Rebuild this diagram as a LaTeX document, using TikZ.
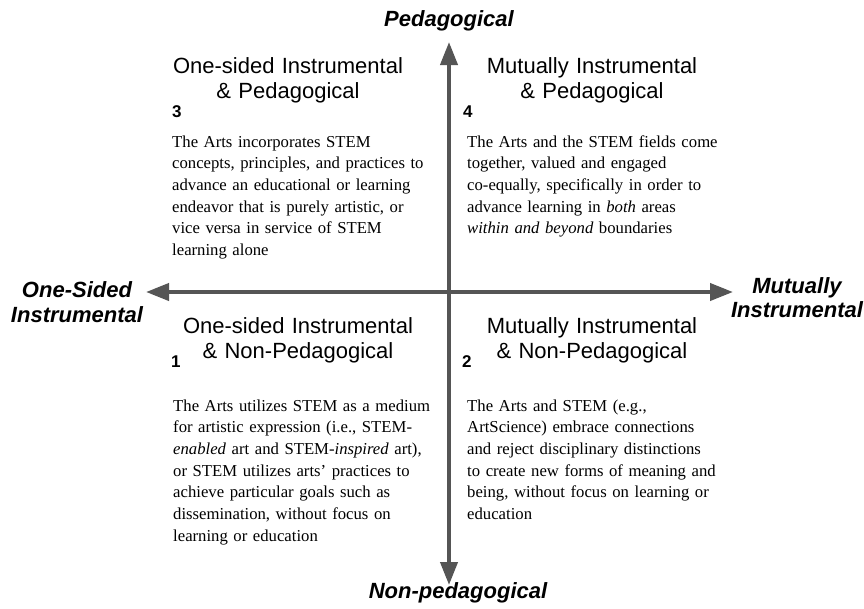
\documentclass[tikz,border=0pt]{standalone}
\usepackage{fontspec}
\setmainfont{Liberation Serif}
\newfontfamily\hfont{Liberation Sans}
\usetikzlibrary{arrows.meta}
\definecolor{axisgray}{HTML}{555555}
\begin{document}
\begin{tikzpicture}[x=1pt,y=-1pt,
  axisline/.style={draw=axisgray,line width=4pt,
    {Triangle[length=23pt,width=17pt]}-{Triangle[length=23pt,width=17pt]}},
  axislabel/.style={inner sep=0pt,align=center,font=\hfont\bfseries\itshape\fontsize{22}{25}\selectfont},
  quadhead/.style={inner sep=0pt,anchor=base,text width=260pt,align=center,font=\hfont\fontsize{22}{25}\selectfont},
  quadnum/.style={inner sep=0pt,anchor=base west,font=\hfont\bfseries\fontsize{17}{20}\selectfont},
  quadbody/.style={inner sep=0pt,anchor=base west,text width=290pt,align=left,font=\fontsize{16.7}{21.7}\selectfont}
]
\useasboundingbox (0,0) rectangle (864,608);
\fill[white] (0,0) rectangle (864,608);

% axes
\coordinate (top) at (449,42);
\coordinate (bot) at (449,585);
\coordinate (left) at (146,292);
\coordinate (right) at (733,292);
\draw[axisline] (bot) -- (top);
\draw[axisline] (left) -- (right);

% axis labels
\node[axislabel,anchor=base] (ped) at (449,26) {Pedagogical};
\node[axislabel,anchor=base] (nonped) at (458,598) {Non-pedagogical};
\node[axislabel,anchor=base] (onesided) at (77,322) {One-Sided\\Instrumental};
\node[axislabel,anchor=base,font=\hfont\bfseries\itshape\fontsize{22}{24}\selectfont] (mutual) at (797,317) {Mutually\\Instrumental};

% quadrant 3
\node[quadhead] (h3) at (288,73) {One-sided Instrumental\\\& Pedagogical};
\node[quadnum] (n3) at (172,117) {3};
\node[quadbody] (b3) at (172,147) {The Arts incorporates STEM\\
concepts, principles, and practices to\\
advance an educational or learning\\
endeavor that is purely artistic, or\\
vice versa in service of STEM\\
learning alone};

% quadrant 4
\node[quadhead] (h4) at (592,73) {Mutually Instrumental\\\& Pedagogical};
\node[quadnum] (n4) at (463,117) {4};
\node[quadbody] (b4) at (467,147) {The Arts and the STEM fields come\\
together, valued and engaged\\
co-equally, specifically in order to\\
advance learning in \textit{both} areas\\
\textit{within and beyond} boundaries};

% quadrant 1
\node[quadhead] (h1) at (298,333) {One-sided Instrumental\\\& Non-Pedagogical};
\node[quadnum] (n1) at (171,367) {1};
\node[quadbody] (b1) at (173,411) {The Arts utilizes STEM as a medium\\
for artistic expression (i.e., STEM-\\
\textit{enabled} art and STEM-\textit{inspired} art),\\
or STEM utilizes arts’ practices to\\
achieve particular goals such as\\
dissemination, without focus on\\
learning or education};

% quadrant 2
\node[quadhead] (h2) at (592,333) {Mutually Instrumental\\\& Non-Pedagogical};
\node[quadnum] (n2) at (462,367) {2};
\node[quadbody] (b2) at (467,411) {The Arts and STEM (e.g.,\\
ArtScience) embrace connections\\
and reject disciplinary distinctions\\
to create new forms of meaning and\\
being, without focus on learning or\\
education};
\end{tikzpicture}
\end{document}
